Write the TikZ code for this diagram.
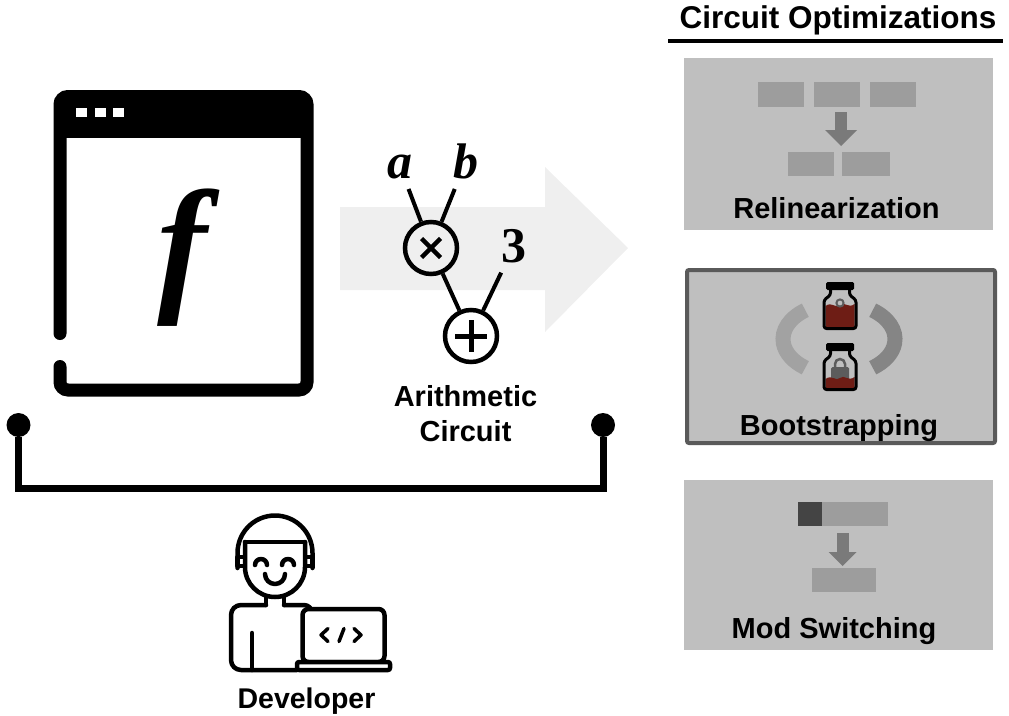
\documentclass[tikz,border=0pt]{standalone}
\definecolor{CBox}{HTML}{BFBFBF}
\definecolor{CBlock}{HTML}{9D9D9D}
\definecolor{CArrow}{HTML}{7A7A7A}
\definecolor{CDark}{HTML}{444444}
\definecolor{CEdge}{HTML}{5A5A5A}
\definecolor{CFlow}{HTML}{EFEFEF}
\definecolor{CRing}{HTML}{A2A2A2}
\definecolor{CRingDark}{HTML}{858585}
\definecolor{CJarRed}{HTML}{6E1D15}
\definecolor{CLock}{HTML}{5C5C5C}
\usepackage{fontspec}
\setmainfont{Liberation Sans}
\newfontfamily\fserif{Liberation Serif}
\usepackage{tikz}
\newcommand{\ctjar}[3]{% {x}{y}{contents} -- x,y = top of the cap
  \begin{scope}[shift={(#1,#2)}]
    #3
    \fill[rounded corners=1.5] (-14,0) rectangle (14,8);
    \draw[line width=3,rounded corners=2.5,line join=round] (-9.5,8) -- (-9.5,13) -- (-16,18)
      -- (-16,46.5) -- (16,46.5) -- (16,18) -- (9.5,13) -- (9.5,8);
  \end{scope}%
}

\begin{document}
\begin{tikzpicture}[x=1pt,y=-1pt,
    optbox/.style={fill=CBox,inner sep=0},
    optlabel/.style={anchor=base,font=\fontsize{29}{34}\selectfont\bfseries},
    var/.style={anchor=base,inner sep=0,font=\fserif\bfseries\itshape\fontsize{50}{50}\selectfont},
    gate/.style={circle,draw,line width=4.5,minimum size=52,inner sep=0},
    wire/.style={line width=4},
    dot/.style={circle,fill,minimum size=24,inner sep=0},
    icon/.style={line width=4.5,line cap=round,line join=round}]
  \useasboundingbox (0,0) rectangle (1009,715);

  % program window
  \draw[line width=13,line cap=round,rounded corners=8]
    (60,366.5) -- (60,390) -- (307,390) -- (307,96.5) -- (60,96.5) -- (60,333.5);
  \fill (60,96.5) rectangle (307,138);
  \foreach \dx in {76,95,113}
    \fill[white] (\dx,108) rectangle ++(11,9);
  \node[font=\fserif\bfseries\itshape\fontsize{150}{150}\selectfont] (fsym) at (182,258) {f};

  % compile arrow and the circuit
  \fill[CFlow] (340,207) -- (545,207) -- (545,167) -- (628,248) -- (545,332)
    -- (545,290) -- (340,290) -- cycle;
  \node[var] (va) at (400,178) {a};
  \node[var] (vb) at (466,178) {b};
  \node[var] (vthree) at (514,262) {\upshape 3};
  \node[gate] (mul) at (431,248) {};
  \node[gate] (add) at (471,336) {};
  \draw[line width=4.5] (mul.center) ++(-9.5,-9.5) -- ++(19,19)
    (mul.center) ++(9.5,-9.5) -- ++(-19,19);
  \draw[line width=5] (add.center) ++(-16,0) -- ++(32,0)
    (add.center) ++(0,-16) -- ++(0,32);
  \draw[wire,shorten <=11] (va) -- (mul);
  \draw[wire,shorten <=11] (vb) -- (mul);
  \draw[wire,shorten <=11] (vthree) -- (add);
  \draw[wire] (mul) -- (add);
  \node[align=center,font=\fontsize{29}{35}\selectfont\bfseries] (arith) at (465.5,414)
    {Arithmetic\\Circuit};

  % bracket to the developer
  \node[dot] (lft) at (18.5,425) {};
  \node[dot] (rgt) at (603,425) {};
  \coordinate (busmid) at (310,488);
  \draw[line width=7] (lft) |- (busmid) -| (rgt);

  % developer
  \begin{scope}[icon]
    \draw (237.5,568) -- (237.5,553) arc[start angle=180,end angle=360,radius=37.5] -- (312.5,568);
    \draw (237.5,557) rectangle (245,566);
    \draw (305,557) rectangle (312.5,566);
    \draw (245,542) -- (305,542);
    \draw (245,542) -- (245,567) arc[start angle=180,end angle=0,radius=30] -- (305,542);
    \draw (255,565) arc[start angle=180,end angle=360,radius=6];
    \draw (282,565) arc[start angle=180,end angle=360,radius=6];
    \draw (265,574) arc[start angle=180,end angle=0,radius=10];
    \draw (266,597) -- (266,605);
    \draw (284,597) -- (284,605);
    \draw[rounded corners=10] (266,605) -- (231,605) -- (231,670) -- (297,670);
    \draw[rounded corners=8] (284,605) -- (312,605) -- (312,620);
    \draw (252,633) -- (252,670);
    \draw[fill=white,rounded corners=6] (302.5,609) rectangle (384.5,662);
    \draw[fill=white,rounded corners=2] (297,662) rectangle (390,670);
    \draw[line width=3.5] (328,628.5) -- (321,635) -- (328,641.5);
    \draw[line width=3.5] (339,641.5) -- (344,628.5);
    \draw[line width=3.5] (354,628.5) -- (361,635) -- (354,641.5);
  \end{scope}
  \node[optlabel,font=\fontsize{28.5}{34}\selectfont\bfseries] (dev) at (306.5,708) {Developer};

  % optimizations column
  \node[anchor=base,font=\fontsize{31.5}{36}\selectfont\bfseries] (opthead) at (838,28)
    {Circuit Optimizations};
  \draw[line width=3.5] (668,41) -- (1003,41);

  \node[optbox,minimum width=309.5,minimum height=172.5] (relin) at (838.25,143.75) {};
  \fill[CBlock] (758,82) rectangle (804,107);
  \fill[CBlock] (814,82) rectangle (860,107);
  \fill[CBlock] (870,82) rectangle (916,107);
  \fill[CArrow] (835,112) rectangle (847,130);
  \fill[CArrow] (825,130) -- (857,130) -- (841,146) -- cycle;
  \fill[CBlock] (788,152) rectangle (834,176);
  \fill[CBlock] (842,152) rectangle (890,176);
  \node[optlabel] (relinlbl) at (836.5,218) {Relinearization};

  \node[optbox,draw=CEdge,line width=4,rounded corners=2,minimum width=308,minimum height=173]
    (boot) at (841,356.5) {};
  \draw[CRing,line width=15] (839,339) ++(233:56 and 36)
    arc[start angle=233,end angle=127,x radius=56,y radius=36];
  \draw[CRingDark,line width=15] (839,339) ++(-53:56 and 36)
    arc[start angle=-53,end angle=53,x radius=56,y radius=36];
  \ctjar{840}{282}{%
    \fill[CJarRed] (-14.5,24) .. controls (-8,19) and (-5,27) .. (0,23)
      .. controls (5,19) and (8,27) .. (14.5,22) -- (14.5,45) -- (-14.5,45) -- cycle;
    \draw[CLock,line width=2,fill=CBox] (0,21) circle (3.6);}
  \ctjar{840}{343}{%
    \fill[CLock,rounded corners=1.5] (-9,24) rectangle (9,39);
    \draw[CLock,line width=2.5] (-5,24) -- (-5,21) arc[start angle=180,end angle=360,radius=5] -- (5,24);
    \fill[CJarRed] (-14.5,36) .. controls (-8,31) and (-4,39) .. (0,35)
      .. controls (4,31) and (8,39) .. (14.5,34) -- (14.5,45) -- (-14.5,45) -- cycle;}
  \node[optlabel] (bootlbl) at (839,435) {Bootstrapping};

  \node[optbox,minimum width=309.5,minimum height=170] (modsw) at (838.25,565) {};
  \fill[CDark] (798,502) rectangle (822,526);
  \fill[CBlock] (822,502) rectangle (888,526);
  \fill[CArrow] (836.5,533) rectangle (848.5,552);
  \fill[CArrow] (828.5,552) -- (856.5,552) -- (842.5,566) -- cycle;
  \fill[CBlock] (812,568) rectangle (876,592);
  \node[optlabel] (modswlbl) at (834,638) {Mod Switching};
\end{tikzpicture}
\end{document}
